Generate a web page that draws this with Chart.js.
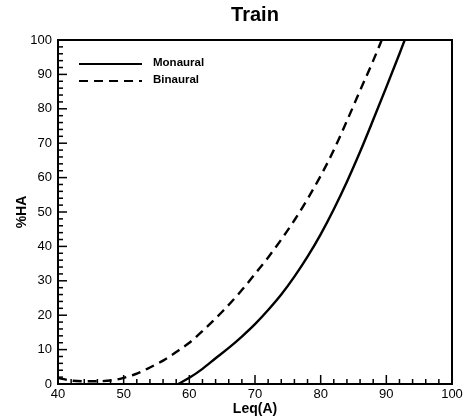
<!DOCTYPE html>
<html>
<head>
<meta charset="utf-8">
<script src="https://cdn.jsdelivr.net/npm/chart.js@4.4.0/dist/chart.umd.min.js"></script>
<style>
  html, body { margin: 0; padding: 0; background: #fff; }
  #wrap { width: 469px; height: 420px; }
</style>
</head>
<body>
<div id="wrap"><canvas id="trainChart" width="469" height="420"></canvas></div>
<script>
// ==================== DATOS ====================
const monauralX = [58.3, 60, 62, 64, 66, 68, 70, 72, 74, 76, 78, 80, 82, 84, 86, 88, 90, 92, 92.8];
const monauralY = [0, 1.8, 4.4, 7.5, 10.5, 13.8, 17.4, 21.5, 26, 31.2, 37, 43.5, 50.8, 58.8, 67.5, 76.8, 86.3, 96, 100];

const binauralX = [40, 42, 45, 48, 50, 52, 54, 56, 58, 60, 62, 65, 68, 70, 72, 74, 76, 78, 80, 82, 84, 86, 88, 89.3];
const binauralY = [1.8, 1, 0.8, 1, 1.8, 3, 4.8, 6.8, 9.3, 12, 15.4, 21, 27.3, 32, 36.8, 42, 47.6, 53.8, 60.5, 68, 76.5, 85.3, 94, 100];

const xTicks = [40, 50, 60, 70, 80, 90, 100];
const yTicks = [0, 10, 20, 30, 40, 50, 60, 70, 80, 90, 100];

const FONT = '"Liberation Sans", Arial, Helvetica, sans-serif';

function toPoints(xs, ys) {
  return xs.map((x, i) => ({ x, y: ys[i] }));
}

// ==================== PLUGIN: marco, ticks internos y leyenda ====================
const frameTicks = {
  id: 'frameTicks',
  afterDatasetsDraw(chart) {
    const { ctx, chartArea: a, scales } = chart;
    const xs = scales.x, ys = scales.y;
    ctx.save();
    ctx.strokeStyle = '#000';

    // ticks hacia adentro (cada 2, mayores cada 10)
    ctx.lineWidth = 1.5;
    for (let v = 40; v <= 100; v += 2) {
      const px = xs.getPixelForValue(v);
      const len = v % 10 === 0 ? 9 : 5;
      ctx.beginPath();
      ctx.moveTo(px, a.bottom);
      ctx.lineTo(px, a.bottom - len);
      ctx.stroke();
    }
    for (let v = 0; v <= 100; v += 2) {
      const py = ys.getPixelForValue(v);
      const len = v % 10 === 0 ? 9 : 5;
      ctx.beginPath();
      ctx.moveTo(a.left, py);
      ctx.lineTo(a.left + len, py);
      ctx.stroke();
    }

    // marco
    ctx.lineWidth = 2;
    ctx.strokeRect(a.left, a.top, a.right - a.left, a.bottom - a.top);

    // leyenda dentro del gráfico
    const items = chart.data.datasets;
    items.forEach((ds, i) => {
      const y = a.top + 24 + i * 17;
      ctx.beginPath();
      ctx.lineWidth = 2.2;
      ctx.setLineDash(ds.borderDash || []);
      ctx.moveTo(a.left + 21, y);
      ctx.lineTo(a.left + 84, y);
      ctx.stroke();
      ctx.setLineDash([]);
      ctx.fillStyle = '#000';
      ctx.font = 'bold 11.5px ' + FONT;
      ctx.textBaseline = 'middle';
      ctx.fillText(ds.label, a.left + 95, y - 1);
    });
    ctx.restore();
  }
};

// ==================== GRÁFICO ====================
new Chart(document.getElementById('trainChart'), {
  type: 'line',
  data: {
    datasets: [
      {
        label: 'Monaural',
        data: toPoints(monauralX, monauralY),
        borderColor: '#000',
        borderWidth: 2.4,
        pointRadius: 0,
        cubicInterpolationMode: 'monotone',
        fill: false
      },
      {
        label: 'Binaural',
        data: toPoints(binauralX, binauralY),
        borderColor: '#000',
        borderWidth: 2.4,
        borderDash: [9, 6],
        pointRadius: 0,
        cubicInterpolationMode: 'monotone',
        fill: false
      }
    ]
  },
  options: {
    responsive: false,
    animation: false,
    layout: { padding: { left: 0, right: 17, top: 0, bottom: 0 } },
    plugins: {
      legend: { display: false },
      tooltip: { enabled: false },
      title: {
        display: true,
        text: 'Train',
        color: '#000',
        fullSize: false,
        font: { family: FONT, size: 20, weight: 'bold' },
        padding: { top: 3, bottom: 13 }
      }
    },
    scales: {
      x: {
        type: 'linear',
        min: 40,
        max: 100,
        afterBuildTicks: (s) => { s.ticks = xTicks.map(v => ({ value: v })); },
        afterFit: (s) => { s.height = 36; },
        grid: { display: false, drawTicks: false },
        border: { display: true, color: '#000', width: 2 },
        ticks: {
          color: '#000',
          padding: 3,
          maxRotation: 0,
          font: { family: FONT, size: 13 }
        },
        title: {
          display: true,
          text: 'Leq(A)',
          color: '#000',
          font: { family: FONT, size: 14, weight: 'bold' },
          padding: { top: 0, bottom: 2 }
        }
      },
      y: {
        type: 'linear',
        min: 0,
        max: 100,
        afterBuildTicks: (s) => { s.ticks = yTicks.map(v => ({ value: v })); },
        afterFit: (s) => { s.width = 58; },
        grid: { display: false, drawTicks: false },
        border: { display: true, color: '#000', width: 2 },
        ticks: {
          color: '#000',
          padding: 6,
          font: { family: FONT, size: 13 }
        },
        title: {
          display: true,
          text: '%HA',
          color: '#000',
          font: { family: FONT, size: 14, weight: 'bold' },
          padding: { top: 14, bottom: 0 }
        }
      }
    }
  },
  plugins: [frameTicks]
});
</script>
</body>
</html>
